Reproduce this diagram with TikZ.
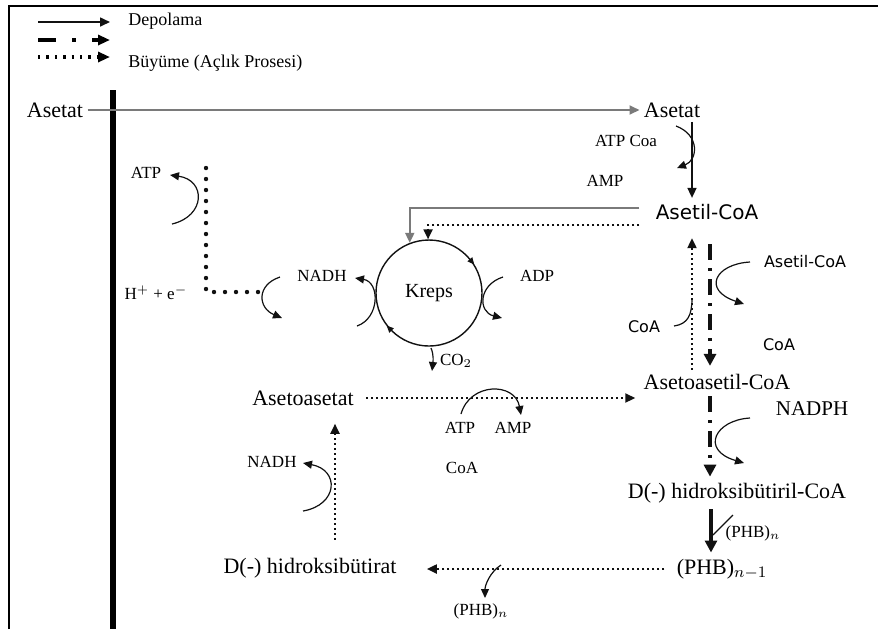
\documentclass[tikz,border=0pt]{standalone}
\usepackage{fontspec}
\setmainfont{Liberation Serif}
\newfontfamily\sansfont{DejaVu Sans}
\usepackage{xcolor}
\definecolor{cLine}{HTML}{111111}
\definecolor{cGray}{HTML}{7A7A7A}
\usetikzlibrary{positioning,arrows.meta,decorations.markings}
\tikzset{
  node-main/.style={font=\fontsize{11}{13}\selectfont,inner sep=2pt},
  node-sans/.style={font=\sansfont\fontsize{8}{10}\selectfont,inner sep=2pt},
  node-side/.style={font=\fontsize{8.5}{10}\selectfont,inner sep=1pt},
  node-legend/.style={font=\fontsize{9}{11}\selectfont,anchor=west,inner sep=0pt},
  arrow-store/.style={-{Triangle[length=5pt,width=4.5pt]},line width=0.8pt,draw=cLine},
  arrow-feed/.style={-{Triangle[length=5pt,width=4.5pt]},line width=0.9pt,draw=cGray},
  arrow-grow/.style={-{Triangle[length=5pt,width=4.5pt]},line width=1pt,
    dash pattern=on 1pt off 1.5pt,draw=cLine},
  arrow-dd/.style={-{Triangle[length=6pt,width=6pt]},line width=2.2pt,
    dash pattern=on 8pt off 4pt on 1.5pt off 4pt,draw=cLine},
  arrow-thick/.style={-{Triangle[length=6pt,width=6pt]},line width=1.8pt,draw=cLine},
  arrow-side/.style={-{Triangle[length=4.5pt,width=4pt]},line width=0.6pt,draw=cLine},
  line-side/.style={line width=0.6pt,draw=cLine},
  line-bigdots/.style={line width=2.2pt,dash pattern=on 0pt off 5.5pt,line cap=round,draw=cLine},
  kreps-ring/.style={circle,draw=cLine,line width=0.7pt,minimum size=53pt,
    font=\fontsize{10}{12}\selectfont,
    postaction={decorate,decoration={markings,
      mark=at position 0.11 with {\arrow{Triangle[reversed,length=3.5pt,width=3pt]}},
      mark=at position 0.625 with {\arrow{Triangle[reversed,length=3.5pt,width=3pt]}}}}},
}

\begin{document}
\begin{tikzpicture}[x=0.5pt,y=-0.5pt]
  \useasboundingbox (0,0) rectangle (878,629);
  % frame and membrane
  \draw[line width=1pt] (9,629) -- (9,6) -- (878,6);
  \draw[line width=2.6pt] (113,90) -- (113,629);

  % legend
  \coordinate (lg1a) at (38,22);  \coordinate (lg1b) at (110,22);
  \coordinate (lg2a) at (38,40);  \coordinate (lg2b) at (110,40);
  \coordinate (lg3a) at (38,57);  \coordinate (lg3b) at (110,57);
  \draw[arrow-store] (lg1a) -- (lg1b);
  \draw[-{Triangle[length=6pt,width=5pt]},line width=2pt,
    dash pattern=on 9pt off 8pt on 2pt off 8pt] (lg2a) -- (lg2b);
  \draw[-{Triangle[length=6pt,width=5pt]},line width=1.6pt,
    dash pattern=on 1.2pt off 3pt] (lg3a) -- (lg3b);
  \node[node-legend] (lgtxt1) at (128,21) {Depolama};
  \node[node-legend] (lgtxt3) at (128,63) {Büyüme (Açlık Prosesi)};

  % main chain
  \node[node-main] (acL) at (55,110) {Asetat};
  \node[node-main] (acR) at (672,110) {Asetat};
  \node[node-sans,font=\sansfont\fontsize{10}{12}\selectfont] (acoa) at (707,212) {Asetil-CoA};
  \node[node-main] (aacoa) at (717,382) {Asetoasetil-CoA};
  \node[node-main] (hbcoa) at (737,493) {D(-) hidroksibütiril-CoA};
  \node[node-main] (phb1) at (722,569) {(PHB)$_{n-1}$};
  \node[node-main] (hb) at (310,568) {D(-) hidroksibütirat};
  \node[node-main] (aa) at (303,398) {Asetoasetat};
  \node[kreps-ring] (kreps) at (429,293) {Kreps};

  \draw[arrow-feed] (acL) -- (acR);
  \draw[arrow-store] ([xshift=10pt]acR.south) -- ([xshift=-7.5pt,yshift=1pt]acoa.north);
  \draw[arrow-feed] ([xshift=-6pt,yshift=2pt]acoa.west) -| (kreps.111);
  \draw[arrow-grow] ([xshift=-6pt,yshift=-6.5pt]acoa.west) -| (kreps.91);
  \draw[arrow-grow] ([xshift=-12.5pt]aacoa.north) -- ([xshift=-7.5pt,yshift=-7pt]acoa.south);
  \draw[arrow-dd] ([xshift=1.5pt,yshift=-10pt]acoa.south) -- ([xshift=-3.5pt,yshift=2pt]aacoa.north);
  \draw[arrow-grow] ([xshift=4pt]aa.east) -- ([xshift=-2pt]aa.east -| aacoa.west);
  \draw[arrow-dd] ([xshift=-3.5pt,yshift=-1pt]aacoa.south) -- ([xshift=-13.5pt,yshift=1pt]hbcoa.north);
  \draw[arrow-thick] ([xshift=-13pt,yshift=-1pt]hbcoa.south) -- ([xshift=-5.5pt,yshift=1pt]phb1.north);
  \draw[arrow-grow] ([xshift=-4pt]phb1.west) -- ([xshift=13pt]phb1.west -| hb.east);
  \draw[arrow-grow] ([xshift=12.5pt,yshift=7pt]hb.north) -- ([xshift=16pt,yshift=-7pt]aa.south);

  % side reactions: Asetat -> Asetil-CoA
  \node[node-side] (atpcoa) at (626,141) {ATP Coa};
  \node[node-side] (amp1) at (605,181) {AMP};
  \coordinate (c1a) at (676,126);
  \coordinate (c1b) at (677,168);
  \draw[arrow-side] (c1a) .. controls (700,135) and (698,160) .. (c1b);

  % Asetil-CoA + Asetil-CoA
  \node[node-sans] (acoaS) at (805,262) {Asetil-CoA};
  \node[node-sans] (coaL) at (644,327) {CoA};
  \node[node-sans] (coaR) at (779,345) {CoA};
  \coordinate (c2a) at (750,262);
  \coordinate (c2b) at (744,304);
  \draw[arrow-side] (c2a) .. controls (715,264) and (702,290) .. (c2b);
  \coordinate (c3a) at (674,326);
  \coordinate (c3b) at (692,298);
  \draw[line-side] (c3a) .. controls (688,324) and (692,315) .. (c3b);

  % NADPH
  \node[node-main,font=\fontsize{10.5}{12}\selectfont] (nadph) at (812,409) {NADPH};
  \coordinate (c4a) at (750,418);
  \coordinate (c4b) at (744,463);
  \draw[arrow-side] (c4a) .. controls (715,420) and (700,450) .. (c4b);

  % PHB release
  \node[node-side] (phbn1) at (753,533) {(PHB)$_n$};
  \coordinate (c5a) at (733,515);
  \coordinate (c5b) at (713,535);
  \draw[line-side] (c5a) -- (c5b);
  \node[node-side] (phbn2) at (481,611) {(PHB)$_n$};
  \coordinate (c6a) at (501,565);
  \coordinate (c6b) at (485,598);
  \draw[arrow-side] (c6a) .. controls (490,572) and (485,585) .. (c6b);

  % Asetoasetat activation
  \node[node-side] (atp2) at (460,428) {ATP};
  \node[node-side] (amp2) at (513,428) {AMP};
  \node[node-side] (coa2) at (462,468) {CoA};
  \coordinate (c7a) at (461,414);
  \coordinate (c7b) at (521,415);
  \draw[arrow-side] (c7a) .. controls (470,382) and (515,382) .. (c7b);

  % NADH near D(-) hidroksibutirat
  \node[node-side] (nadh3) at (272,462) {NADH};
  \coordinate (c8a) at (303,511);
  \coordinate (c8b) at (303,463);
  \draw[arrow-side] (c8a) .. controls (338,505) and (340,470) .. (c8b);

  % Kreps cycle side reactions
  \node[node-side] (nadh2) at (322,276) {NADH};
  \coordinate (c9a) at (357,326);
  \coordinate (c9b) at (355,278);
  \draw[arrow-side] (c9a) .. controls (380,318) and (380,282) .. (c9b);
  \node[node-side] (adp) at (537,276) {ADP};
  \coordinate (c10a) at (503,277);
  \coordinate (c10b) at (502,318);
  \draw[arrow-side] (c10a) .. controls (478,285) and (478,312) .. (c10b);
  \node[node-side] (co2) at (456,361) {CO$_2$};
  \coordinate (c11a) at (431,348);
  \coordinate (c11b) at (432,371);
  \draw[arrow-side] (c11a) .. controls (434,355) and (433,362) .. (c11b);

  % electron transport
  \node[node-side] (atp1) at (146,173) {ATP};
  \node[node-side] (hplus) at (156,293) {H$^{+}$ + e$^{-}$};
  \coordinate (etop) at (206,168);
  \coordinate (ecorner) at (206,292);
  \coordinate (eend) at (262,292);
  \draw[line-bigdots] (etop) -- (ecorner) -- (eend);
  \coordinate (c12a) at (172,224);
  \coordinate (c12b) at (170,175);
  \draw[arrow-side] (c12a) .. controls (206,216) and (206,180) .. (c12b);
  \coordinate (c13a) at (280,277);
  \coordinate (c13b) at (282,318);
  \draw[arrow-side] (c13a) .. controls (256,285) and (258,308) .. (c13b);
\end{tikzpicture}
\end{document}
